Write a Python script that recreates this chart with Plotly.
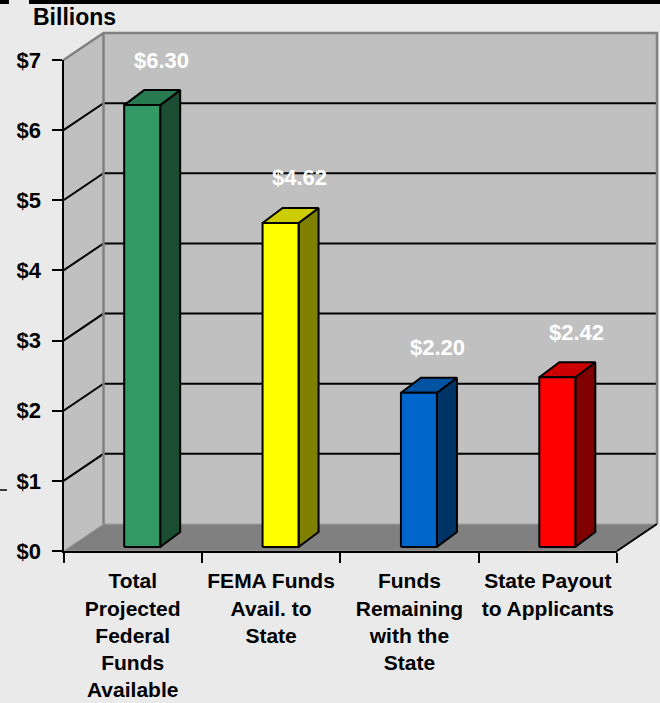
import plotly.graph_objects as go

# ---------------- data ----------------
categories = [
    "Total<br>Projected<br>Federal<br>Funds<br>Available",
    "FEMA Funds<br>Avail. to<br>State",
    "Funds<br>Remaining<br>with the<br>State",
    "State Payout<br>to Applicants",
]
values = [6.30, 4.62, 2.20, 2.42]
y_tick_values = [0, 1, 2, 3, 4, 5, 6, 7]
y_tick_labels = ["$0", "$1", "$2", "$3", "$4", "$5", "$6", "$7"]
axis_title = "Billions"

# ---------------- style ----------------
front_colors = ["#339966", "#ffff00", "#0066cc", "#ff0000"]
top_colors = ["#287a50", "#cccc00", "#0052a3", "#cc0000"]
side_colors = ["#1b4d33", "#808000", "#003366", "#800000"]
PAPER = "#eaeaea"
WALL = "#c0c0c0"
FLOOR = "#808080"
EDGE = "#808080"
FONT = "Liberation Sans, Arial, sans-serif"
W, H = 660, 703

# pixel geometry of the plotting box
PX_X0, PX_X4 = 63.5, 617.0       # x of category 0 and 4 boundaries
PY_Y0, PY_Y7 = 551.0, 60.0       # y of $0 and $7
PXU = (PX_X4 - PX_X0) / 4
PYV = (PY_Y0 - PY_Y7) / 7
N = len(categories)
YMAX = 7

# depth (3-D) offsets in data units
WDX, WDY = 40 / PXU, 27 / PYV     # wall depth
BDX, BDY = 20 / PXU, 15 / PYV     # bar depth
BW = 36 / PXU                     # bar width
BSHIFT = 9.5 / PXU                # bar front shift
BASE = 4 / PYV                    # bar base lift

fig = go.Figure()


def poly(xs, ys, fill, line_color, lw):
    fig.add_trace(go.Scatter(
        x=xs + [xs[0]], y=ys + [ys[0]], mode="lines", fill="toself",
        fillcolor=fill, line=dict(color=line_color, width=lw),
        hoverinfo="skip", showlegend=False))


def seg(xs, ys, color, lw):
    fig.add_trace(go.Scatter(
        x=xs, y=ys, mode="lines", line=dict(color=color, width=lw),
        hoverinfo="skip", showlegend=False))


# back wall
poly([WDX, N + WDX, N + WDX, WDX], [WDY, WDY, YMAX + WDY, YMAX + WDY], WALL, WALL, 0.5)
# left wall
poly([0, WDX, WDX, 0], [0, WDY, YMAX + WDY, YMAX], WALL, WALL, 0.5)
# floor
poly([0, WDX, N + WDX, N], [0, WDY, WDY, 0], FLOOR, "#a0a0a0", 1)

# gridlines
for v in y_tick_values[1:-1]:
    seg([0, WDX, N + WDX], [v, v + WDY, v + WDY], "black", 2)

# wall edges
seg([0, WDX, N + WDX, N + WDX], [YMAX, YMAX + WDY, YMAX + WDY, WDY], EDGE, 2.5)
seg([WDX, WDX], [WDY, YMAX + WDY], EDGE, 2.5)
seg([N, N + WDX], [0, WDY], "black", 2)

# bars
for i, v in enumerate(values):
    cx = i + 0.5 + BSHIFT
    x0, x1 = cx - BW / 2, cx + BW / 2
    y0, y1 = BASE, v + BASE
    poly([x1, x1 + BDX, x1 + BDX, x1], [y0, y0 + BDY, y1 + BDY, y1], side_colors[i], "black", 2)
    poly([x0, x1, x1 + BDX, x0 + BDX], [y1, y1, y1 + BDY, y1 + BDY], top_colors[i], "black", 2)
    poly([x0, x1, x1, x0], [y0, y0, y1, y1], front_colors[i], "black", 2)
    fig.add_annotation(
        x=cx, y=y1, xref="x", yref="y", text=f"${v:.2f}", showarrow=False,
        xshift=19, yshift=45, yanchor="middle", xanchor="center",
        font=dict(family=FONT, size=22, color="white", weight="bold"))

# dummy trace for category axis
fig.add_trace(go.Scatter(
    x=categories, y=[0] * N, xaxis="x2", yaxis="y2", mode="markers",
    marker=dict(opacity=0), hoverinfo="skip", showlegend=False))

fig.add_annotation(
    x=31 / W, y=1 - 17 / H, xref="paper", yref="paper", text=axis_title,
    showarrow=False, xanchor="left", yanchor="middle",
    font=dict(family=FONT, size=23, color="black", weight="bold"))

# decorative slide frame lines
shapes = [
    dict(type="rect", xref="paper", yref="paper", x0=29 / W, x1=1, y0=1 - 4 / H, y1=1,
         fillcolor="black", line=dict(width=0), layer="above"),
    dict(type="rect", xref="paper", yref="paper", x0=0, x1=9 / W, y0=1 - 4 / H, y1=1,
         fillcolor="black", line=dict(width=0), layer="above"),
    dict(type="line", xref="paper", yref="paper", x0=0, x1=7 / W, y0=1 - 490 / H, y1=1 - 490 / H,
         line=dict(color="black", width=1.5)),
]

fig.update_layout(
    width=W, height=H, margin=dict(l=0, r=0, t=0, b=0, autoexpand=False),
    paper_bgcolor=PAPER, plot_bgcolor="rgba(0,0,0,0)", showlegend=False,
    shapes=shapes,
    xaxis=dict(range=[-PX_X0 / PXU, (W - PX_X0) / PXU], domain=[0, 1], visible=False,
               fixedrange=True, automargin=False),
    yaxis=dict(range=[-(H - PY_Y0) / PYV, PY_Y0 / PYV], domain=[0, 1], visible=False,
               fixedrange=True, automargin=False),
    xaxis2=dict(
        type="category", categoryorder="array", categoryarray=categories,
        range=[-0.5, N - 0.5], domain=[PX_X0 / W, PX_X4 / W], anchor="y2",
        tickson="boundaries", ticks="outside", ticklen=10, tickwidth=2, tickcolor="black",
        showline=True, linecolor="black", linewidth=2, showgrid=False, zeroline=False,
        tickangle=0,
        tickfont=dict(family=FONT, size=21, color="black", weight="bold"),
        ticklabelstandoff=10, fixedrange=True, automargin=False),
    yaxis2=dict(
        range=[0, YMAX], domain=[1 - PY_Y0 / H, 1 - PY_Y7 / H], anchor="x2",
        tickvals=y_tick_values, ticktext=y_tick_labels,
        ticks="outside", ticklen=10, tickwidth=2, tickcolor="black",
        showline=True, linecolor="black", linewidth=2, showgrid=False, zeroline=False,
        tickfont=dict(family=FONT, size=22, color="black", weight="bold"),
        ticklabelstandoff=6, fixedrange=True, automargin=False),
)

fig.write_html("out.html", config={"displayModeBar": False},
               post_script="document.body.style.margin='0';document.body.style.overflow='hidden';")
